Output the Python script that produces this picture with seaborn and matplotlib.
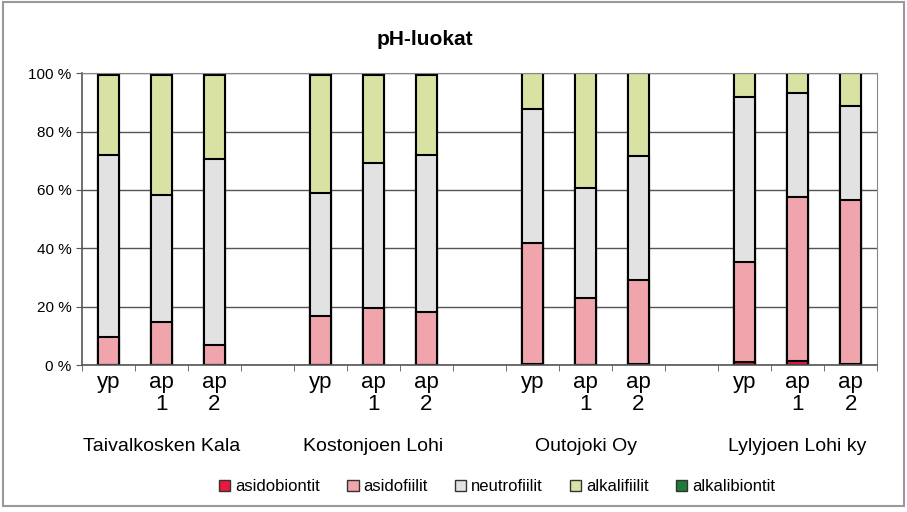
import matplotlib
matplotlib.use("Agg")
import matplotlib.pyplot as plt
import matplotlib.patches as mpatches
import matplotlib.transforms as mtransforms
import seaborn as sns
import pandas as pd
import numpy as np

# data (percent)
groups = ["Taivalkosken Kala", "Kostonjoen Lohi", "Outojoki Oy", "Lylyjoen Lohi ky"]
samples = ["yp", "ap\n1", "ap\n2"]
asidobiontit = [0, 0, 0, 0, 0, 0, 0.5, 0, 0.5, 1.2, 1.5, 0.3]
asidofiilit = [9.6, 14.6, 6.9, 16.9, 19.4, 18.1, 41.4, 22.9, 28.8, 34.0, 56.0, 56.1]
neutrofiilit = [62.5, 43.7, 63.8, 42.0, 49.7, 53.9, 45.7, 37.9, 42.5, 56.5, 35.6, 32.2]
alkalifiilit = [27.4, 41.2, 28.8, 40.6, 30.4, 27.5, 12.4, 39.2, 28.2, 8.3, 6.9, 11.4]
alkalibiontit = [0] * 12

classes = ["asidobiontit", "asidofiilit", "neutrofiilit", "alkalifiilit", "alkalibiontit"]
colors = ["#e8193c", "#f0a4ac", "#e2e2e2", "#d9e1a3", "#1f7a3c"]

ids = [f"{g}|{s}" for g in groups for s in samples]
df = pd.DataFrame({"id": ids, "asidobiontit": asidobiontit, "asidofiilit": asidofiilit,
                   "neutrofiilit": neutrofiilit, "alkalifiilit": alkalifiilit,
                   "alkalibiontit": alkalibiontit})

# slot order with empty spacers between the groups
order = []
for i, g in enumerate(groups):
    order += [f"{g}|{s}" for s in samples]
    if i < len(groups) - 1:
        order.append(f"gap{i}")

plt.rcParams["font.family"] = ["Liberation Sans", "DejaVu Sans"]

fig = plt.figure(figsize=(9.07, 5.12), dpi=100)
ax = fig.add_axes([0.0904, 0.287, 0.8766, 0.570])

cum = df[classes].cumsum(axis=1)
# draw cumulative bars from the top down so they stack
for c, col in zip(reversed(classes), reversed(colors)):
    sns.barplot(data=cum.assign(id=df["id"]), x="id", y=c, order=order, color=col,
                width=0.4, edgecolor="black", linewidth=1.5, saturation=1, ax=ax)

ax.set_ylim(0, 100)
ax.set_xlim(-0.5, len(order) - 0.5)
ax.set_yticks(range(0, 101, 20))
ax.set_yticklabels([f"{v} %" for v in range(0, 101, 20)], fontsize=11)
ax.yaxis.grid(True, color="#555555", linewidth=1)
ax.set_axisbelow(True)
ax.set_xlabel("")
ax.set_ylabel("")

xt = [k for k, o in enumerate(order) if not o.startswith("gap")]
ax.set_xticks(xt)
ax.set_xticklabels(samples * len(groups), fontsize=16, va="top", linespacing=1.05)
ax.tick_params(axis="x", length=0, pad=5)
ax.tick_params(axis="y", length=4, color="#555555")
ax.set_xticks(np.arange(-0.5, len(order), 1), minor=True)
ax.tick_params(axis="x", which="minor", length=4, color="#555555")

for s in ["top", "right"]:
    ax.spines[s].set_color("#888888")
for s in ["left", "bottom"]:
    ax.spines[s].set_color("#555555")
    ax.spines[s].set_linewidth(1.2)

trans = mtransforms.blended_transform_factory(ax.transData, ax.transAxes)
for i, g in enumerate(groups):
    ax.text(i * 4 + 1, -0.28, g, transform=trans, ha="center", va="center", fontsize=14)

fig.text(0.468, 0.922, "pH-luokat", ha="center", va="center", fontsize=15, fontweight="bold")

handles = [mpatches.Patch(facecolor=col, edgecolor="#333333", label=c)
           for c, col in zip(classes, colors)]
fig.legend(handles=handles, loc="center", bbox_to_anchor=(0.548, 0.049), ncol=5,
           frameon=False, fontsize=12, handlelength=0.7, handleheight=0.7,
           handletextpad=0.3, columnspacing=1.6)

fig.patches.append(mpatches.Rectangle((0.003, 0.012), 0.994, 0.984, transform=fig.transFigure,
                                      fill=False, edgecolor="#999999", linewidth=1.5))

fig.savefig("out.png", dpi=100)
